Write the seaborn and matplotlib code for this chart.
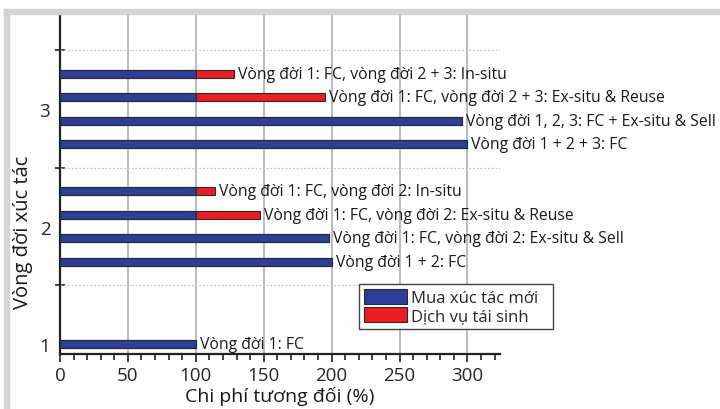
import matplotlib
matplotlib.use("Agg")
import matplotlib.pyplot as plt
from matplotlib.patches import Patch, Rectangle
from matplotlib.ticker import MultipleLocator, FixedLocator
import seaborn as sns
import pandas as pd
import numpy as np

# ---- data ----
cycles = [1, 2, 2, 2, 2, 3, 3, 3, 3]
scenarios = [
    "Vòng đời 1: FC",
    "Vòng đời 1 + 2: FC",
    "Vòng đời 1: FC, vòng đời 2: Ex-situ & Sell",
    "Vòng đời 1: FC, vòng đời 2: Ex-situ & Reuse",
    "Vòng đời 1: FC, vòng đời 2: In-situ",
    "Vòng đời 1 + 2 + 3: FC",
    "Vòng đời 1, 2, 3: FC + Ex-situ & Sell",
    "Vòng đời 1: FC, vòng đời 2 + 3: Ex-situ & Reuse",
    "Vòng đời 1: FC, vòng đời 2 + 3: In-situ",
]
new_catalyst = [100, 200, 198, 100, 100, 300, 296, 100, 100]
regeneration = [0, 0, 0, 47, 14, 0, 0, 95, 28]
series_names = ["Mua xúc tác mới", "Dịch vụ tái sinh"]
y_ticks = [1, 2, 3]
x_ticks = [0, 50, 100, 150, 200, 250, 300]

BLUE = "#2B3E98"
RED = "#EC1C24"
EDGE = "#2a2a2a"

# ---- positions within each cycle group ----
df = pd.DataFrame({"cycle": cycles, "scenario": scenarios,
                   "new": new_catalyst, "regen": regeneration})
df["rank"] = df.groupby("cycle").cumcount()
df["n"] = df.groupby("cycle")["cycle"].transform("size")
df["ypos"] = (df["cycle"] + (df["rank"] - (df["n"] - 1) / 2) * 0.2).round(3)
df["total"] = df["new"] + df["regen"]

sns.set_style("white")
plt.rcParams["font.family"] = ["Open Sans", "DejaVu Sans"]

fig = plt.figure(figsize=(7.2, 4.1), dpi=100)
ax = fig.add_axes([60 / 720, 1 - 355 / 410, 440 / 720, 340 / 410])

# figure border (gray L-shape)
fig.patches.append(Rectangle((4 / 720, 395 / 410), 716 / 720, 5 / 410,
                             transform=fig.transFigure, color="#d4d4d4", zorder=0))
fig.patches.append(Rectangle((4 / 720, 0), 5 / 720, 400 / 410,
                             transform=fig.transFigure, color="#d4d4d4", zorder=0))

sns.barplot(data=df, x="total", y="ypos", orient="y", native_scale=True,
            color=RED, saturation=1, edgecolor=EDGE, linewidth=0.8,
            width=0.34, ax=ax, zorder=3, errorbar=None)
sns.barplot(data=df, x="new", y="ypos", orient="y", native_scale=True,
            color=BLUE, saturation=1, edgecolor=EDGE, linewidth=0.8,
            width=0.34, ax=ax, zorder=4, errorbar=None)

for _, r in df.iterrows():
    ax.text(r["total"] + 3, r["ypos"], r["scenario"], va="center", ha="left",
            fontsize=11.3, color="#1a1a1a", zorder=5)

ax.set_xlim(0, 324)
ax.set_ylim(0.915, 3.81)

# grid lines
for xv in x_ticks[1:]:
    ax.axvline(xv, color="#a9a9a9", lw=1.1, zorder=1)
for yv in [1.5, 2.5, 3.5]:
    ax.axhline(yv, color="#c4c4c4", lw=0.9, ls=(0, (1.5, 1.5)), zorder=1)

ax.xaxis.set_major_locator(FixedLocator(x_ticks))
ax.xaxis.set_minor_locator(MultipleLocator(10))
ax.yaxis.set_major_locator(FixedLocator(y_ticks))
ax.yaxis.set_minor_locator(FixedLocator([1.5, 2.5, 3.5]))
ax.set_yticklabels([str(v) for v in y_ticks])
ax.set_xticklabels([str(v) for v in x_ticks])

ax.tick_params(axis="x", which="major", direction="out", length=6, width=1.2,
               color="#222", labelsize=13.5, pad=3, bottom=True)
ax.tick_params(axis="x", which="minor", direction="out", length=4, width=1.2,
               color="#222", bottom=True)
ax.tick_params(axis="y", which="major", length=0, labelsize=13.5, pad=7, left=True)
ax.tick_params(axis="y", which="minor", direction="inout", length=7, width=1.2,
               color="#222", left=True)

for s in ["top", "right"]:
    ax.spines[s].set_visible(False)
for s in ["left", "bottom"]:
    ax.spines[s].set_color("#222")
    ax.spines[s].set_linewidth(1.6)

ax.set_xlabel("Chi phí tương đối (%)", fontsize=14, labelpad=1, color="#1a1a1a")
ax.set_ylabel("Vòng đời xúc tác", fontsize=14.5, color="#1a1a1a")
ax.yaxis.set_label_coords((23 - 60) / 440, (355 - 232) / 340)
ax.yaxis.label.set_va("center")

handles = [Patch(facecolor=BLUE, edgecolor=EDGE, lw=0.8),
           Patch(facecolor=RED, edgecolor=EDGE, lw=0.8)]
leg = ax.legend(handles, series_names, loc="upper left", mode="expand",
                bbox_to_anchor=((359 - 60) / 440, (355 - 337) / 340,
                                (553 - 359) / 440, (337 - 285) / 340),
                borderaxespad=0, fancybox=False, framealpha=1, edgecolor="#444",
                fontsize=12, handlelength=2.55, handleheight=1.0,
                handletextpad=0.25, borderpad=0.3, labelspacing=0.05)
leg.get_frame().set_linewidth(1.0)
leg.set_zorder(6)

fig.savefig("out.png", dpi=100)
